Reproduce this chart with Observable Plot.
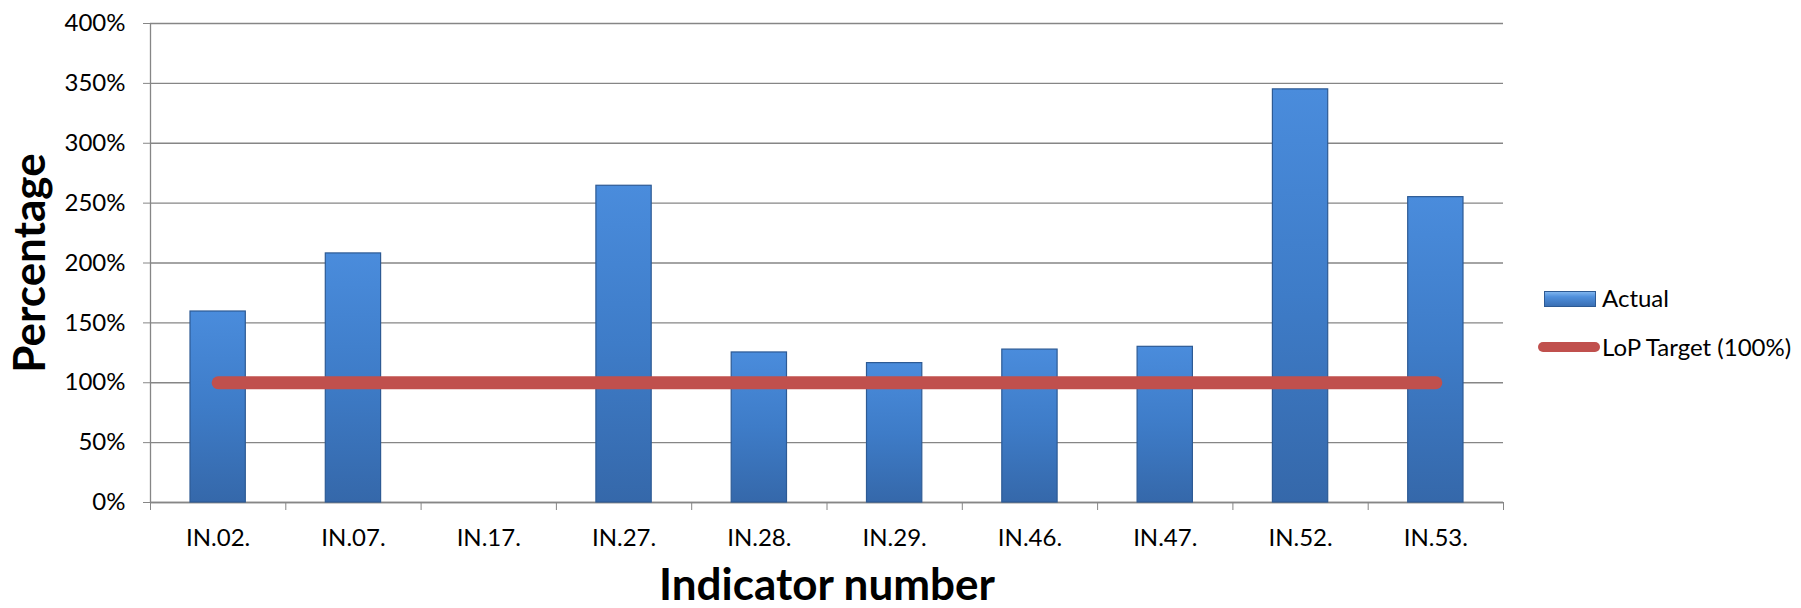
<!DOCTYPE html>
<html>
<head>
<meta charset="utf-8">
<script src="https://cdn.jsdelivr.net/npm/d3@7"></script>
<script src="https://cdn.jsdelivr.net/npm/@observablehq/plot@0.6"></script>
<style>
  html, body { margin: 0; padding: 0; background: #ffffff; }
  #wrap { position: relative; width: 1801px; height: 608px; font-family: Lato, "Open Sans", sans-serif; }
  .leg { position: absolute; font-size: 24px; color: #000; line-height: 1; white-space: nowrap; }
  .sw-bar { position: absolute; left: 1544px; top: 291px; width: 50px; height: 14px;
            background: linear-gradient(#7fb4ee 0%, #4f8fdc 35%, #3a6fb4 100%); border: 1px solid #2d5a94; }
  .sw-line { position: absolute; left: 1538px; top: 342px; width: 62px; height: 10px; border-radius: 5px; background: #C0504D; }
</style>
</head>
<body>
<div id="wrap"></div>
<script>
// ---- data ----
const indicators = ["IN.02.", "IN.07.", "IN.17.", "IN.27.", "IN.28.", "IN.29.", "IN.46.", "IN.47.", "IN.52.", "IN.53."];
const actual = [159.5, 208, 0, 264.5, 125.3, 116.4, 127.7, 130, 345, 255];
const target = [100, 100, 100, 100, 100, 100, 100, 100, 100, 100];
const yTicks = [0, 50, 100, 150, 200, 250, 300, 350, 400];
const seriesNames = ["Actual", "LoP Target (100%)"];

const table = indicators.map((name, i) => ({i, name, actual: actual[i], target: target[i]}));
const boundaries = d3.range(0, indicators.length + 1);
const centers = indicators.map((_, i) => i + 0.5);

const grid = "#868686";

const plot = Plot.plot({
  width: 1801,
  height: 608,
  marginLeft: 150,
  marginRight: 298,
  marginTop: 23,
  marginBottom: 106,
  style: {fontFamily: "Lato, 'Open Sans', sans-serif", fontSize: "24px", background: "#ffffff", color: "#000"},
  x: {type: "linear", domain: [0, indicators.length]},
  y: {domain: [0, 400]},
  marks: [
    Plot.gridY(yTicks, {stroke: grid, strokeOpacity: 1, strokeWidth: 1.3}),
    Plot.ruleX([0], {stroke: grid, strokeWidth: 1.3}),
    Plot.ruleY([0], {stroke: grid, strokeWidth: 1.3}),
    Plot.rectY(table.filter(d => d.actual > 0), {
      x1: d => d.i, x2: d => d.i + 1, y: "actual",
      insetLeft: 40, insetRight: 40,
      fill: "url(#barGrad)", stroke: "#2d5a94", strokeWidth: 1.2
    }),
    Plot.lineY(table, {x: d => d.i + 0.5, y: "target", stroke: "#C0504D", strokeWidth: 13, strokeLinecap: "round"}),
    Plot.axisY({
      ticks: yTicks, tickSize: 7, tickPadding: 18, stroke: grid, fill: "#000",
      tickFormat: d => d + "%", fontSize: 24,
      label: "Percentage", labelAnchor: "center", labelArrow: "none", labelOffset: 137
    }),
    Plot.axisX({ticks: boundaries, tickSize: 8, stroke: grid, tickFormat: () => "", label: null}),
    Plot.axisX({
      ticks: centers, tickSize: 0, tickPadding: 26, fill: "#000", fontSize: 24,
      tickFormat: d => indicators[Math.floor(d)],
      label: "Indicator number", labelAnchor: "center", labelArrow: "none", labelOffset: 97
    })
  ]
});

// bar gradient definition
const ns = "http://www.w3.org/2000/svg";
const defs = document.createElementNS(ns, "defs");
defs.innerHTML = `
  <linearGradient id="barGrad" x1="0" y1="0" x2="0" y2="1">
    <stop offset="0%" stop-color="#4a8cdc"/>
    <stop offset="50%" stop-color="#3e7cc8"/>
    <stop offset="100%" stop-color="#3568aa"/>
  </linearGradient>`;
plot.insertBefore(defs, plot.firstChild);

// bold axis titles
plot.querySelectorAll("g[aria-label='y-axis label'] text, g[aria-label='x-axis label'] text").forEach(t => {
  t.setAttribute("font-weight", "bold");
  t.setAttribute("font-size", "44");
});

const wrap = document.getElementById("wrap");
wrap.appendChild(plot);

// legend
const sw1 = document.createElement("div"); sw1.className = "sw-bar"; wrap.appendChild(sw1);
const t1 = document.createElement("div"); t1.className = "leg"; t1.style.left = "1602px"; t1.style.top = "286px"; t1.textContent = seriesNames[0]; wrap.appendChild(t1);
const sw2 = document.createElement("div"); sw2.className = "sw-line"; wrap.appendChild(sw2);
const t2 = document.createElement("div"); t2.className = "leg"; t2.style.left = "1602px"; t2.style.top = "335px"; t2.textContent = seriesNames[1]; wrap.appendChild(t2);
</script>
</body>
</html>
